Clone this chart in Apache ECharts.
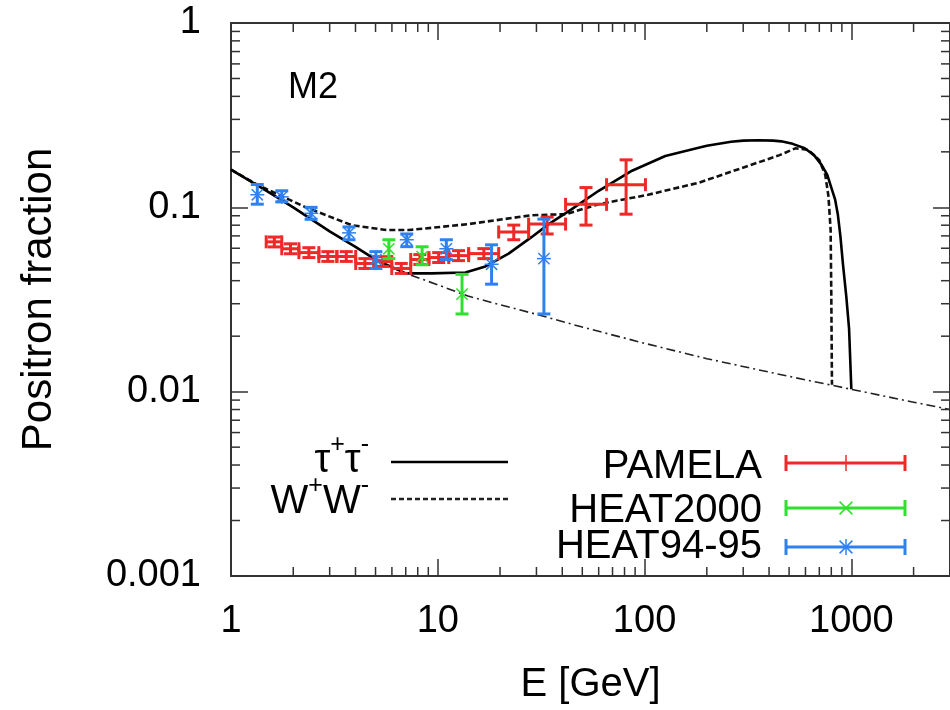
<!DOCTYPE html>
<html><head><meta charset="utf-8">
<script src="https://cdn.jsdelivr.net/npm/echarts@6/dist/echarts.min.js"></script>
<style>html,body{margin:0;padding:0;background:#fff}#c{width:950px;height:710px}</style>
</head><body><div id="c"></div>
<script>
// ---------- data ----------
const xTickLabels = ['1', '10', '100', '1000'];
const yTickLabels = ['0.001', '0.01', '0.1', '1'];
const xMinorTicks = [2,3,4,5,6,7,8,9,20,30,40,50,60,70,80,90,200,300,400,500,600,700,800,900,2000];
const yMinorTicks = [0.002,0.003,0.004,0.005,0.006,0.007,0.008,0.009,0.02,0.03,0.04,0.05,0.06,0.07,0.08,0.09,0.2,0.3,0.4,0.5,0.6,0.7,0.8,0.9];

// background (dash-dot)
const bgE = [1, 1.5, 2, 3, 4, 5, 7, 10, 14, 20, 30, 50, 100, 200, 500, 1000, 2000, 3000];
const bgF = [0.160, 0.122, 0.100, 0.074, 0.061, 0.052, 0.0438, 0.038, 0.033, 0.0296, 0.0263, 0.0224, 0.0183, 0.0151, 0.0121, 0.0103, 0.00877, 0.0080];

// tau+tau- (solid)
const tauE = [1, 1.5, 2, 3, 4, 5, 7, 9.3, 13.6, 17, 22, 28.5, 34.4, 44.3, 60, 87, 126, 163, 200, 262, 300, 355, 420, 458, 520, 595, 660, 718, 765, 800, 835, 860, 885, 910, 945, 975, 1000];
const tauF = [0.160, 0.122, 0.100, 0.074, 0.061, 0.052, 0.0438, 0.0438, 0.0443, 0.0478, 0.0561, 0.0691, 0.0811, 0.0975, 0.123, 0.158, 0.190, 0.204, 0.216, 0.227, 0.230, 0.231, 0.230, 0.228, 0.221, 0.209, 0.192, 0.170, 0.150, 0.128, 0.110, 0.0918, 0.070, 0.0496, 0.033, 0.0220, 0.0103];

// W+W- (dashed)
const wwE = [1, 1.37, 2.3, 3.84, 5.64, 7.26, 14.1, 28.5, 41.6, 60, 104, 183, 318, 450, 536, 620, 700, 748, 775, 794, 800, 806];
const wwF = [0.160, 0.131, 0.100, 0.080, 0.0753, 0.0753, 0.0811, 0.0906, 0.0918, 0.104, 0.117, 0.136, 0.168, 0.192, 0.209, 0.205, 0.180, 0.150, 0.115, 0.0753, 0.033, 0.0109];

// PAMELA
const pamE   = [1.62, 1.94, 2.38, 2.94, 3.61, 4.44, 5.43, 6.66, 8.19, 10.1, 12.6, 16.7, 23.3, 33.8, 52.1, 81.4];
const pamElo = [1.48, 1.76, 2.13, 2.66, 3.25, 4.01, 4.91, 5.99, 7.40, 9.06, 11.3, 14.1, 19.7, 27.5, 41.5, 65.5];
const pamEhi = [1.76, 2.13, 2.66, 3.25, 4.01, 4.91, 5.99, 7.40, 9.06, 11.3, 14.1, 19.7, 27.5, 41.5, 65.5, 101];
const pamF   = [0.0650, 0.0596, 0.0568, 0.0541, 0.0541, 0.0496, 0.0508, 0.0466, 0.0521, 0.0534, 0.0547, 0.0561, 0.0735, 0.0811, 0.1038, 0.1327];
const pamFlo = [0.0610, 0.0560, 0.0534, 0.0509, 0.0509, 0.0466, 0.0478, 0.0438, 0.0490, 0.0502, 0.0514, 0.0527, 0.0667, 0.0717, 0.0801, 0.0918];
const pamFhi = [0.0690, 0.0634, 0.0604, 0.0575, 0.0575, 0.0527, 0.0540, 0.0496, 0.0554, 0.0568, 0.0582, 0.0597, 0.0801, 0.0885, 0.128, 0.181];

// HEAT2000
const h00E   = [5.8, 8.4, 13.1];
const h00F   = [0.0596, 0.054, 0.0338];
const h00Flo = [0.0527, 0.0488, 0.0264];
const h00Fhi = [0.0667, 0.0611, 0.0433];

// HEAT94-95
const h94E   = [1.34, 1.76, 2.44, 3.72, 5.02, 7.08, 11.0, 18.2, 32.6];
const h94F   = [0.117, 0.114, 0.0928, 0.0727, 0.0521, 0.0667, 0.0596, 0.0491, 0.0527];
const h94Flo = [0.104, 0.107, 0.0861, 0.0667, 0.0466, 0.0612, 0.0521, 0.0383, 0.0264];
const h94Fhi = [0.133, 0.123, 0.100, 0.0783, 0.0575, 0.0717, 0.0667, 0.0626, 0.0863];

// ---------- styling ----------
const FONT = '"Liberation Sans", Arial, Helvetica, sans-serif';
const RED = '#f02828', GREEN = '#2fe02f', BLUE = '#2f82ee';
const AXC = '#333';

function zip(a, b) { return a.map((v, i) => [v, b[i]]); }

function markerLines(cx, cy, kind, s, color, w) {
  const st = { stroke: color, lineWidth: w };
  const L = (x1, y1, x2, y2) => ({ type: 'line', shape: { x1, y1, x2, y2 }, style: st });
  const out = [];
  if (kind === '+' || kind === '*') { out.push(L(cx - s, cy, cx + s, cy)); out.push(L(cx, cy - s, cx, cy + s)); }
  if (kind === 'x' || kind === '*') { const d = s * 0.8; out.push(L(cx - d, cy - d, cx + d, cy + d)); out.push(L(cx - d, cy + d, cx + d, cy - d)); }
  return out;
}

function errSeries(name, color, kind, E, Elo, Ehi, F, Flo, Fhi) {
  const data = E.map((e, i) => [e, F[i], Elo ? Elo[i] : e, Ehi ? Ehi[i] : e, Flo[i], Fhi[i]]);
  return {
    type: 'custom', name, z: 5, data,
    renderItem(params, api) {
      const e = api.value(0), f = api.value(1);
      const c = api.coord([e, f]);
      const a = api.coord([api.value(2), f]), b = api.coord([api.value(3), f]);
      const lo = api.coord([e, api.value(4)]), hi = api.coord([e, api.value(5)]);
      const st = { stroke: color, lineWidth: 3 };
      const L = (x1, y1, x2, y2) => ({ type: 'line', shape: { x1, y1, x2, y2 }, style: st });
      const ch = [];
      const cap = 6.5;
      if (Math.abs(b[0] - a[0]) > 1) {
        ch.push(L(a[0], c[1], b[0], c[1]));
        ch.push(L(a[0], c[1] - cap, a[0], c[1] + cap));
        ch.push(L(b[0], c[1] - cap, b[0], c[1] + cap));
      }
      ch.push(L(c[0], lo[1], c[0], hi[1]));
      ch.push(L(c[0] - cap, lo[1], c[0] + cap, lo[1]));
      ch.push(L(c[0] - cap, hi[1], c[0] + cap, hi[1]));
      markerLines(c[0], c[1], kind, kind === '+' ? 5 : 7, color, 1.5).forEach(m => ch.push(m));
      return { type: 'group', children: ch };
    }
  };
}

function axisCommon(pos, labels, isX) {
  return {
    type: 'log', logBase: 10, position: pos,
    min: isX ? 1 : 0.001, max: isX ? 3000 : 1,
    axisLine: { show: true, onZero: false, lineStyle: { color: AXC, width: 2 } },
    axisTick: { show: true, inside: true, length: 17, lineStyle: { color: AXC, width: 1.5 } },
    splitLine: { show: false },
    minorTick: { show: false },
    axisLabel: { show: labels, fontSize: 38, color: '#000', fontFamily: FONT,
      margin: isX ? 27 : 30, showMaxLabel: isX ? false : true,
      formatter: (v) => {
        const lg = Math.log10(v), i = Math.round(lg);
        if (Math.abs(lg - i) > 1e-6) return '';
        const arr = isX ? xTickLabels : yTickLabels;
        const idx = isX ? i : i + 3;
        return arr[idx] !== undefined ? arr[idx] : '';
      } }
  };
}

const xBottom = Object.assign(axisCommon('bottom', true, true), {
  name: 'E [GeV]', nameLocation: 'middle', nameGap: 89,
  nameTextStyle: { fontSize: 40, color: '#000', fontFamily: FONT } });
const xTop = axisCommon('top', false, true);
const yLeft = Object.assign(axisCommon('left', true, false), {
  name: 'Positron fraction', nameLocation: 'middle', nameGap: 171,
  nameTextStyle: { fontSize: 42, color: '#000', fontFamily: FONT } });
const yRight = axisCommon('right', false, false);

function minorSeries(isX) {
  const data = isX ? xMinorTicks.map(v => [v, 0.05]) : yMinorTicks.map(v => [10, v]);
  return {
    type: 'custom', silent: true, z: 3, data,
    renderItem(params, api) {
      const cs = params.coordSys;
      const p = api.coord([api.value(0), api.value(1)]);
      const len = 9;
      const st = { stroke: AXC, lineWidth: 1.5 };
      if (isX) {
        return { type: 'group', children: [
          { type: 'line', shape: { x1: p[0], y1: cs.y + cs.height, x2: p[0], y2: cs.y + cs.height - len }, style: st },
          { type: 'line', shape: { x1: p[0], y1: cs.y, x2: p[0], y2: cs.y + len }, style: st } ] };
      }
      return { type: 'group', children: [
        { type: 'line', shape: { x1: cs.x, y1: p[1], x2: cs.x + len, y2: p[1] }, style: st },
        { type: 'line', shape: { x1: cs.x + cs.width, y1: p[1], x2: cs.x + cs.width - len, y2: p[1] }, style: st } ] };
    }
  };
}

// legend ornaments
const legendText = (text, x, y) => ({ type: 'text', x, y, z: 20,
  style: { text, fill: '#000', font: '40px ' + FONT, textAlign: 'right', textVerticalAlign: 'middle' } });
const supRich = {
  a: { fontSize: 40, fontFamily: FONT, fill: '#000', color: '#000', verticalAlign: 'bottom', lineHeight: 48 },
  s: { fontSize: 25, fontFamily: FONT, fill: '#000', color: '#000', verticalAlign: 'top', lineHeight: 48 }
};
const richText = (text, x, y) => ({ type: 'text', x, y, z: 20,
  style: { text, rich: supRich, fill: '#000', font: '40px ' + FONT, textAlign: 'right', textVerticalAlign: 'middle' } });
const gLine = (x1, y1, x2, y2, color, w, dash) => ({ type: 'line', z: 20,
  shape: { x1, y1, x2, y2 }, style: { stroke: color, lineWidth: w, lineDash: dash || null } });

function legendErr(y, color, kind) {
  const ch = [gLine(786, y, 905, y, color, 3), gLine(786, y - 8, 786, y + 8, color, 3), gLine(905, y - 8, 905, y + 8, color, 3)];
  markerLines(846, y, kind, 8, color, 1.5).forEach(m => { m.z = 20; ch.push(m); });
  return ch;
}

const graphics = [
  { type: 'text', x: 288, y: 88, z: 20, style: { text: 'M2', fill: '#000', font: '36px ' + FONT, textAlign: 'left', textVerticalAlign: 'middle' } },
  richText('{a|τ}{s|+}{a|τ}{s|-}', 369, 457),
  richText('{a|W}{s|+}{a|W}{s|-}', 369, 498),
  gLine(391, 462, 508, 462, '#000', 2.5),
  gLine(391, 499, 508, 499, '#222', 2.5, [5, 3]),
  legendText('PAMELA', 762, 467),
  legendText('HEAT2000', 762, 511),
  legendText('HEAT94-95', 762, 547)
].concat(legendErr(463, RED, '+'), legendErr(508, GREEN, 'x'), legendErr(547, BLUE, '*'));

const option = {
  animation: false,
  backgroundColor: '#fff',
  grid: { left: 231, top: 23, width: 720, height: 562, show: false },
  xAxis: [xBottom, xTop],
  yAxis: [yLeft, yRight],
  graphic: graphics,
  series: [
    minorSeries(true), minorSeries(false),
    { type: 'line', name: 'background', data: zip(bgE, bgF), showSymbol: false, z: 2,
      lineStyle: { color: '#222', width: 1.6, type: [9, 4, 2, 4] } },
    { type: 'line', name: 'W+W-', data: zip(wwE, wwF), showSymbol: false, z: 3,
      lineStyle: { color: '#111', width: 2.6, type: [6, 3] } },
    { type: 'line', name: 'tau+tau-', data: zip(tauE, tauF), showSymbol: false, z: 4,
      lineStyle: { color: '#000', width: 2.6 } },
    errSeries('PAMELA', RED, '+', pamE, pamElo, pamEhi, pamF, pamFlo, pamFhi),
    errSeries('HEAT2000', GREEN, 'x', h00E, null, null, h00F, h00Flo, h00Fhi),
    errSeries('HEAT94-95', BLUE, '*', h94E, null, null, h94F, h94Flo, h94Fhi)
  ]
};
const chart = echarts.init(document.getElementById('c'), null, { renderer: 'canvas' });
chart.setOption(option);
</script></body></html>
